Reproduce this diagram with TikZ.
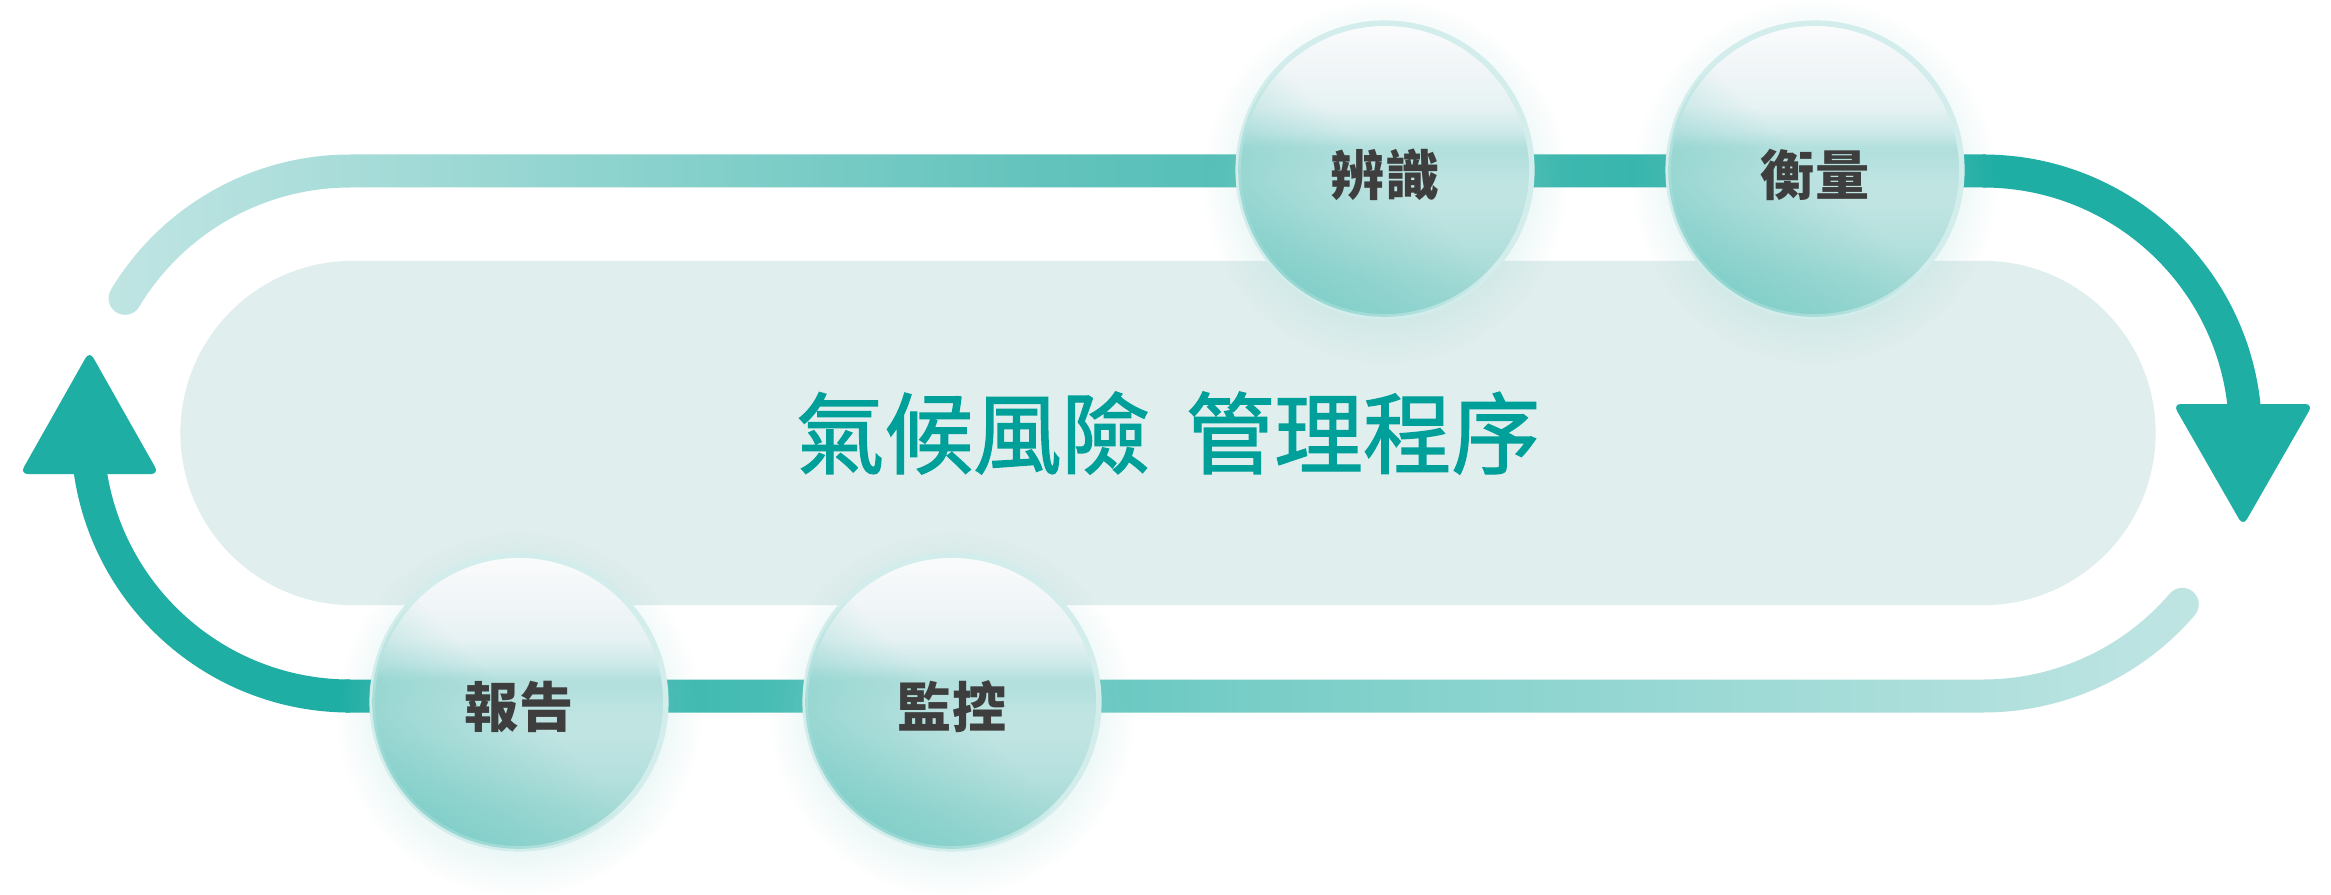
\documentclass[tikz,border=0pt]{standalone}
\usepackage{fontspec}
\newfontfamily\tcfont{Noto Sans CJK TC}
\newfontfamily\titlefont{Noto Sans CJK TC}[FakeBold=1.5]
\usetikzlibrary{shapes.misc,fadings}

\definecolor{pillc}{HTML}{E0EEED}
\definecolor{trackdark}{HTML}{1FAEA4}
\definecolor{tracklight}{HTML}{C0E5E3}
\definecolor{trackmidtop}{HTML}{62C3BC}
\definecolor{trackmidbot}{HTML}{7ACEC8}
\definecolor{titlec}{HTML}{00A09A}
\definecolor{labelc}{HTML}{3E3E3E}
\definecolor{rimc}{HTML}{D2EDEB}
\definecolor{glowc}{HTML}{8ED3CE}
\definecolor{tintc}{HTML}{6CC8C1}
\definecolor{bubA}{HTML}{9FD8D4}
\definecolor{bubB}{HTML}{A7DBD7}
\definecolor{bubC}{HTML}{B5E0DD}
\definecolor{bubD}{HTML}{BFE4E2}
\definecolor{bubE}{HTML}{B3E0DD}
\definecolor{bubF}{HTML}{CDE9E9}
\definecolor{bubG}{HTML}{E6F2F3}
\definecolor{bubH}{HTML}{F0F5F7}
\definecolor{bubI}{HTML}{F7F9FA}
\definecolor{bubJ}{HTML}{FBFCFC}

\pgfdeclareverticalshading{bubbleshade}{100bp}{color(0bp)=(bubA); color(25bp)=(bubA);
  color(31.8bp)=(bubB); color(37.7bp)=(bubC); color(44bp)=(bubD); color(48bp)=(bubD);
  color(52.5bp)=(bubE); color(54bp)=(bubE); color(56.5bp)=(bubF); color(60.8bp)=(bubG);
  color(66.5bp)=(bubH); color(72.4bp)=(bubI); color(75bp)=(bubJ); color(100bp)=(bubJ)}

\tikzfading[name=tintfade, bottom color=transparent!40, top color=transparent!100, middle color=transparent!100]
\tikzfading[name=glowfade, inner color=transparent!0, outer color=transparent!100]

\begin{document}
\begin{tikzpicture}[x=0.01cm, y=0.01cm,
  bubble/.style={circle, minimum size=2.935cm, inner sep=0pt, shade, shading=bubbleshade,
    draw=rimc, line width=0.55mm, text=labelc,
    font=\tcfont\bfseries\fontsize{15.4pt}{18pt}\selectfont, text height=16.4pt, text depth=1.85pt,
    postaction={fill=tintc, path fading=tintfade, fading angle=-45}},
  glow/.style={fill=glowc, path fading=glowfade, fill opacity=0.7},
  darkband/.style={draw=trackdark, line width=3.3mm},
  tiphead/.style={fill=trackdark, rounded corners=0.8mm}]

\useasboundingbox (0,0) rectangle (2331,-894);
\fill[white] (0,0) rectangle (2331,-894);

% pill with the title
\node[rounded rectangle, fill=pillc, minimum width=19.74cm, minimum height=3.44cm, inner sep=0pt,
  text=titlec, font=\titlefont\fontsize{25.2pt}{30pt}\selectfont] (title) at (1168,-433) {氣候風險\hspace{.4em}管理程序};

\coordinate (cl) at (350,-433.5);
\coordinate (cr) at (1983,-433.5);

% upper track, light to dark
\shade[left color=tracklight, right color=trackdark, middle color=trackmidtop]
  (cl) ++(149:279) arc[start angle=149, end angle=90, radius=279]
  -- (1986,-154.5) -- (1986,-187.5) -- (350,-187.5)
  arc[start angle=90, end angle=149, radius=246]
  arc[start angle=329, end angle=149, radius=16.5] -- cycle;

\draw[darkband] (1983,-171) arc[start angle=90, end angle=4, radius=262.5];
\fill[tiphead] (2173,-404) -- (2313,-404) -- (2243,-526) -- cycle;

% lower track, light to dark
\shade[left color=trackdark, right color=tracklight, middle color=trackmidbot]
  (345,-679.5) -- (1983,-679.5)
  arc[start angle=270, end angle=319.4, radius=246]
  arc[start angle=139.4, end angle=-40.6, radius=16.5]
  arc[start angle=319.4, end angle=270, radius=279]
  -- (345,-712.5) -- cycle;

\draw[darkband] (350,-696) arc[start angle=270, end angle=186, radius=262.5];
\fill[tiphead] (20,-474) -- (159,-474) -- (89.5,-351) -- cycle;

% bubbles
\coordinate (pBian) at (1385,-170);
\coordinate (pHeng) at (1815,-170);
\coordinate (pBao) at (519,-702);
\coordinate (pJian) at (952,-702);

\fill[glow] (pBian) ++(0,-12) circle (182);
\fill[glow] (pHeng) ++(0,-12) circle (182);
\fill[glow] (pBao) ++(0,-12) circle (182);
\fill[glow] (pJian) ++(0,-12) circle (182);

\node[bubble] (bian) at (pBian) {辨識};
\node[bubble] (heng) at (pHeng) {衡量};
\node[bubble] (bao) at (pBao) {報告};
\node[bubble] (jian) at (pJian) {監控};

\end{tikzpicture}
\end{document}
